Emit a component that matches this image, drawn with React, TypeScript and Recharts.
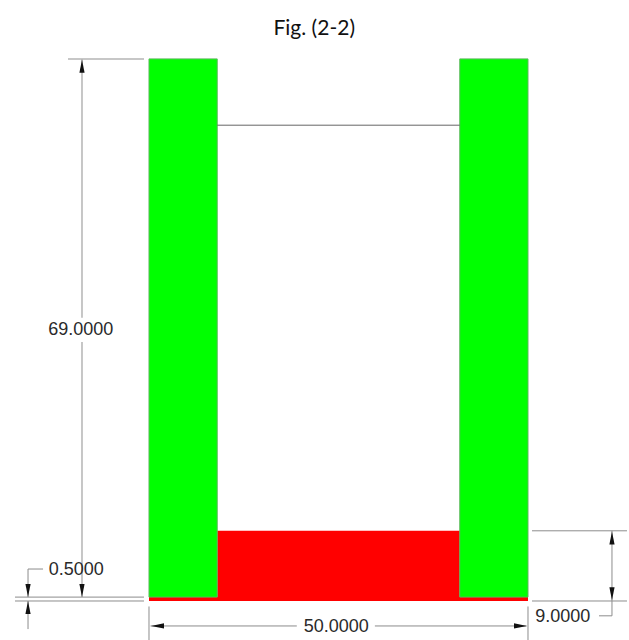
import { ScatterChart, Scatter, XAxis, YAxis, ReferenceArea, ReferenceLine } from 'recharts';

// everything is in the drawing's own units (the dimensions printed on it)
const xDomain = [-19.657, 63.325];
const yDomain = [-5, 77.05];

const greenWalls = [
  { x1: 0, x2: 9, y1: 0.5, y2: 69.5 },
  { x1: 41, x2: 50, y1: 0.5, y2: 69.5 },
];
const redParts = [
  { x1: 9, x2: 41, y1: 0.5, y2: 9 },
  { x1: 0, x2: 50, y1: 0, y2: 0.5 },
];

// [x1, y1, x2, y2]
const waterLine = [9, 61, 41, 61];
const lightLines = [
  [-10.69, 69.5, -0.66, 69.5],
  [-8.84, 69.5, -8.84, 36.3],
  [-8.84, 33.2, -8.84, 0.5],
];
const dimLines = [
  [-17.68, 0.5, -0.66, 0.5],
  [-17.68, 0, -0.66, 0],
  [-15.96, 4.1, -15.96, 0.5],
  [-15.96, 4.1, -13.98, 4.1],
  [-15.96, 0, -15.96, -3.6],
  [0, -0.7, 0, -5],
  [50, -0.7, 50, -5],
  [0.2, -3.2, 19.5, -3.2],
  [29.8, -3.2, 49.8, -3.2],
  [50.53, 9, 63.06, 9],
  [50.53, 0, 63.06, 0],
  [61.08, 9, 61.08, -1.9],
  [61.08, -1.9, 59.37, -1.9],
];

const arrows = [
  { x: -8.84, y: 69.4, dir: 'up' },
  { x: -8.84, y: 0.5, dir: 'down' },
  { x: -15.96, y: 0.5, dir: 'down' },
  { x: -15.96, y: 0, dir: 'up' },
  { x: 0.26, y: -3.2, dir: 'left' },
  { x: 49.87, y: -3.2, dir: 'right' },
  { x: 61.08, y: 8.9, dir: 'up' },
  { x: 61.08, y: 0.1, dir: 'down' },
];

const dimLabels = [
  { x: -9, y: 34.9, text: '69.0000' },
  { x: -9.6, y: 4.1, text: '0.5000' },
  { x: 24.7, y: -3.2, text: '50.0000' },
  { x: 54.6, y: -1.9, text: '9.0000' },
];
const title = [{ x: 21.8, y: 73.5, text: 'Fig. (2-2)' }];

const rotation: Record<string, number> = { up: 0, right: 90, down: 180, left: 270 };

const Arrow = ({ cx, cy, payload }: any) => (
  <path
    d="M0 0 L2.6 13 L-2.6 13 Z"
    fill="#111"
    transform={`translate(${cx} ${cy}) rotate(${rotation[payload.dir]})`}
  />
);

const DimText = ({ cx, cy, payload }: any) => (
  <text x={cx} y={cy} dy="0.36em" textAnchor="middle" fontFamily="Liberation Sans" fontSize={18} fill="#2a2a2a">
    {payload.text}
  </text>
);

const TitleText = ({ cx, cy, payload }: any) => (
  <text x={cx} y={cy} dy="0.36em" textAnchor="middle" fontFamily="Lato" fontSize={21} fill="#111">
    {payload.text}
  </text>
);

const segment = (l: number[]) => [
  { x: l[0], y: l[1] },
  { x: l[2], y: l[3] },
];

export default function App() {
  return (
    <div style={{ position: 'absolute', left: 0, top: 0 }}>
      <ScatterChart width={629} height={640} margin={{ top: 0, right: 0, bottom: 0, left: 0 }}>
        <XAxis type="number" dataKey="x" domain={xDomain} hide allowDataOverflow />
        <YAxis type="number" dataKey="y" domain={yDomain} hide allowDataOverflow />
        {redParts.map((r, i) => (
          <ReferenceArea key={i} {...r} fill="#ff0000" fillOpacity={1} stroke="none" />
        ))}
        {greenWalls.map((r, i) => (
          <ReferenceArea key={i} {...r} fill="#00ff00" fillOpacity={1} stroke="#5cb85c" strokeWidth={1} />
        ))}
        <ReferenceLine segment={segment(waterLine)} stroke="#666" strokeWidth={1} />
        {lightLines.map((l, i) => (
          <ReferenceLine key={i} segment={segment(l)} stroke="#b4b4b4" strokeWidth={1.5} />
        ))}
        {dimLines.map((l, i) => (
          <ReferenceLine key={i} segment={segment(l)} stroke="#8c8c8c" strokeWidth={1} />
        ))}
        <Scatter data={arrows} shape={Arrow} isAnimationActive={false} />
        <Scatter data={dimLabels} shape={DimText} isAnimationActive={false} />
        <Scatter data={title} shape={TitleText} isAnimationActive={false} />
      </ScatterChart>
    </div>
  );
}
